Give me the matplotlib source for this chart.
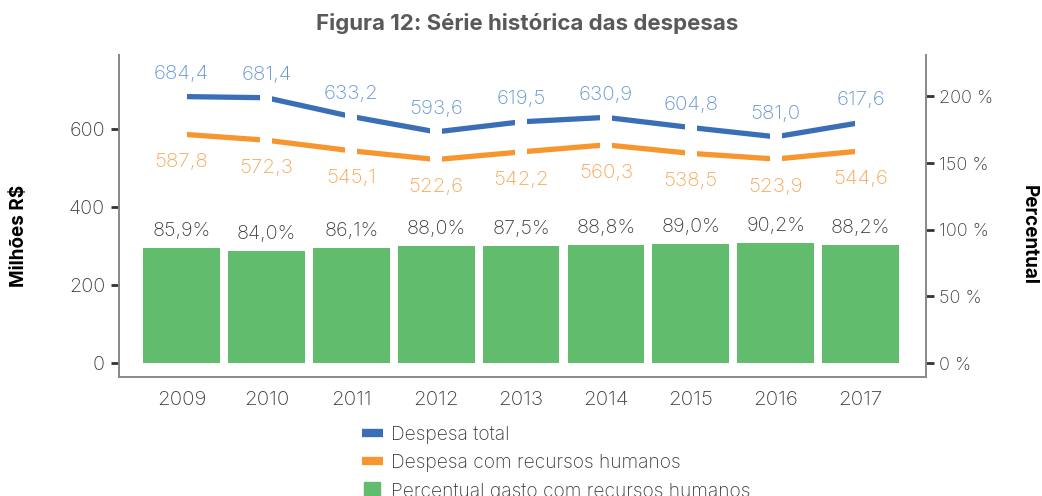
import matplotlib
matplotlib.use("Agg")
import matplotlib.pyplot as plt
from matplotlib.lines import Line2D
import numpy as np

years = ["2009", "2010", "2011", "2012", "2013", "2014", "2015", "2016", "2017"]
despesa_total = [684.4, 681.4, 633.2, 593.6, 619.5, 630.9, 604.8, 581.0, 617.6]
despesa_rh = [587.8, 572.3, 545.1, 522.6, 542.2, 560.3, 538.5, 523.9, 544.6]
percentual = [85.9, 84.0, 86.1, 88.0, 87.5, 88.8, 89.0, 90.2, 88.2]
left_ticks = [0, 200, 400, 600]
right_ticks = [0, 50, 100, 150, 200]

BLUE = "#3A6FB8"
ORANGE = "#F7962F"
GREEN = "#62BC6E"
BLUE_LBL = "#6496D4"
ORANGE_LBL = "#F8A654"
TXT = "#3c3c3c"
W = "light"

plt.rcParams['font.family'] = ['Inter', 'DejaVu Sans']

fig = plt.figure(figsize=(10.42, 4.96), dpi=100)
ax = fig.add_axes([0.1142, 0.2399, 0.8887 - 0.1142, 0.889 - 0.2399])
ax2 = ax.twinx()
ax.set_zorder(ax2.get_zorder() + 1)
ax.patch.set_visible(False)

x = np.arange(len(years))

# Bars (right axis)
ax2.bar(x, percentual, width=0.905, color=GREEN, zorder=2)
for xi, p in zip(x, percentual):
    ax2.text(xi, p + 6.0, f"{p:.1f}%".replace(".", ","), ha="center", va="bottom",
             fontsize=14.3, color=TXT, fontweight=W)

# Lines (left axis) with gaps at points
for vals, col in [(despesa_total, BLUE), (despesa_rh, ORANGE)]:
    ax.plot(x, vals, color=col, lw=3.8, solid_capstyle="butt", zorder=3)
    ax.plot(x, vals, ls="none", marker="s", ms=8.5, mfc="white", mec="white", mew=0, zorder=4)

for xi, v in zip(x, despesa_total):
    ax.text(xi, v + 35, f"{v:.1f}".replace(".", ","), ha="center", va="bottom",
            fontsize=14.8, color=BLUE_LBL, fontweight=W)
for xi, v in zip(x, despesa_rh):
    ax.text(xi, v - 48, f"{v:.1f}".replace(".", ","), ha="center", va="top",
            fontsize=14.8, color=ORANGE_LBL, fontweight=W)

ax.set_xlim(-0.736, 8.77)
ax.set_ylim(-36, 791)
ax2.set_ylim(-10.5, 231)

ax.set_xticks(x)
ax.set_xticklabels(years)
ax.set_yticks(left_ticks)
ax.set_yticklabels([str(t) for t in left_ticks])
ax2.set_yticks(right_ticks)
ax2.set_yticklabels([f"{t} %" for t in right_ticks])

for a in (ax, ax2):
    a.spines["top"].set_visible(False)
    for s in ("left", "right", "bottom"):
        a.spines[s].set_color("#8a8a8a")
        a.spines[s].set_linewidth(1.3)

ax.tick_params(axis="y", length=6, width=2, color="#333333", labelsize=14.3, labelcolor=TXT, pad=4)
ax.tick_params(axis="x", length=0, labelsize=14.8, labelcolor=TXT, pad=10)
ax2.tick_params(axis="y", length=6, width=2, color="#333333", labelsize=13, labelcolor=TXT, pad=3)
for lbl in ax.get_xticklabels() + ax.get_yticklabels() + ax2.get_yticklabels():
    lbl.set_fontweight(W)

fig.text(0.018, 0.525, "Milhões R$", rotation=90, ha="center", va="center",
         fontsize=13.6, fontweight="bold", color="black")
fig.text(0.987, 0.526, "Percentual", rotation=-90, ha="center", va="center",
         fontsize=13.6, fontweight="bold", color="black")
fig.text(0.506, 0.952, "Figura 12: Série histórica das despesas", ha="center", va="center",
         fontsize=16, fontweight="bold", color="#595959")

handles = [Line2D([], [], color=BLUE, lw=6, solid_capstyle="butt"),
           Line2D([], [], color=ORANGE, lw=6, solid_capstyle="butt"),
           Line2D([], [], ls="none", marker="s", ms=11, color=GREEN)]
labels = ["Despesa total", "Despesa com recursos humanos", "Percentual gasto com recursos humanos"]
leg = fig.legend(handles, labels, loc="upper left", bbox_to_anchor=(0.347, 0.142),
                 frameon=False, fontsize=13.8, handlelength=1.1, handletextpad=0.45,
                 labelspacing=0.55, borderaxespad=0, borderpad=0)
for t in leg.get_texts():
    t.set_color(TXT)
    t.set_fontweight(W)

fig.savefig("out.png", dpi=100)
